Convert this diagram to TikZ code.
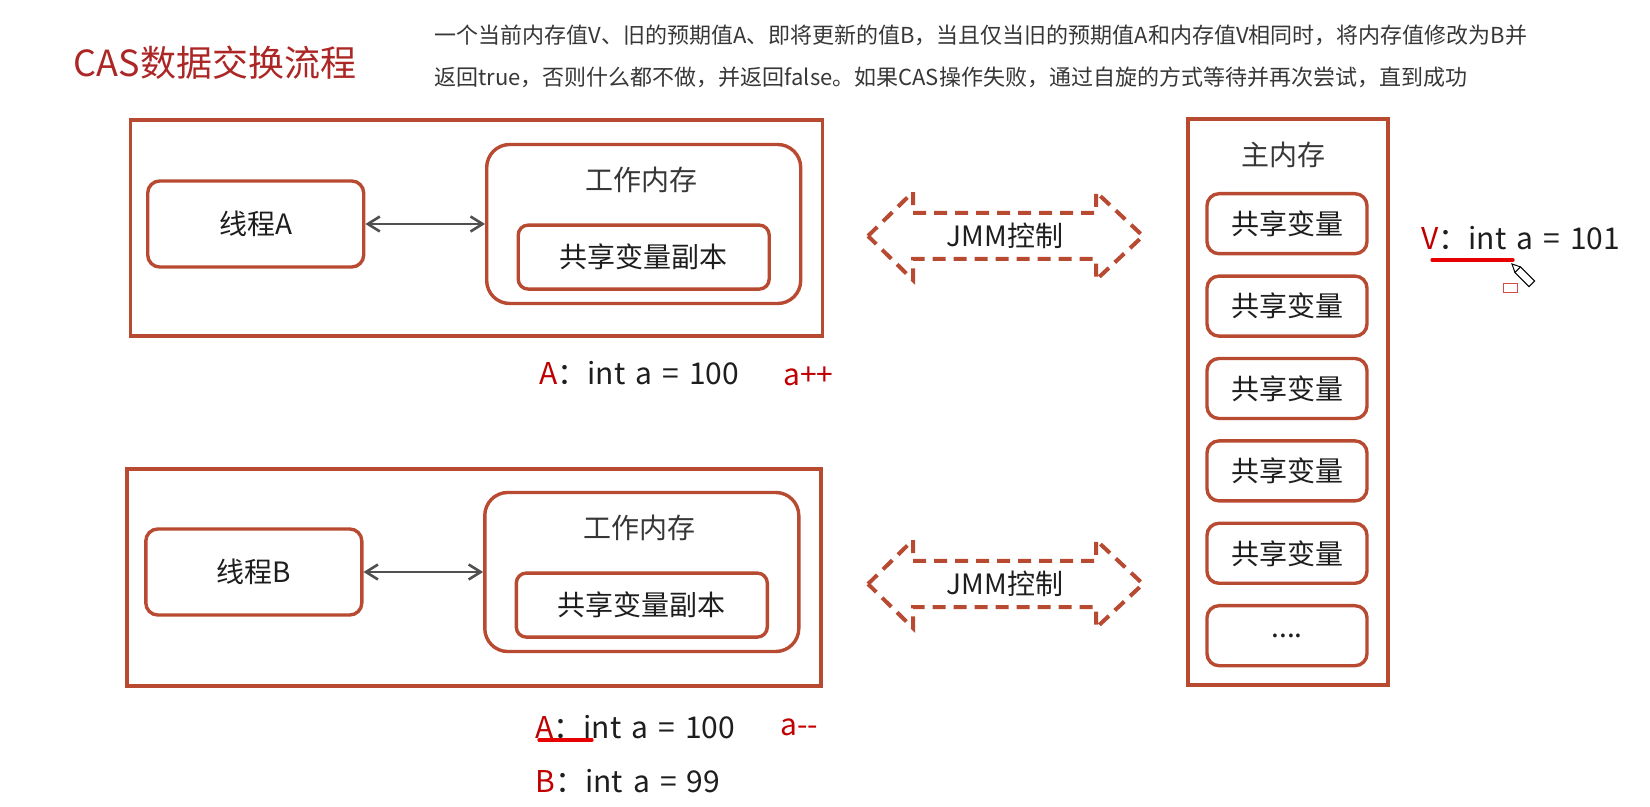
\documentclass[tikz,border=0pt]{standalone}
\usepackage{fontspec}
\setmainfont{Noto Sans CJK SC}[WordSpace=1.5]
\usepackage{tikz}
\usetikzlibrary{arrows.meta, positioning, calc}

\definecolor{lineRust}{RGB}{184,74,50}
\definecolor{lineGray}{RGB}{80,80,80}
\definecolor{textDark}{RGB}{30,30,30}
\definecolor{textGray}{RGB}{55,55,55}
\definecolor{titleRed}{RGB}{172,38,38}
\definecolor{labelRed}{RGB}{192,0,0}
\definecolor{markRed}{RGB}{232,0,0}

\tikzset{
  frameBox/.style={draw=lineRust, line width=1.7pt, inner sep=0pt},
  roundBox/.style={
    frameBox,
    rounded corners=6pt,
    fill=white,
    align=center,
    text=textDark,
    font=\fontsize{14pt}{16pt}\selectfont
  },
  threadNode/.style={roundBox, minimum width=108pt, minimum height=43pt},
  workNode/.style={roundBox, rounded corners=11.5pt, minimum width=157pt, minimum height=79.5pt},
  copyNode/.style={roundBox, rounded corners=5pt, minimum width=125.5pt, minimum height=32pt},
  cellNode/.style={roundBox, minimum width=80pt, minimum height=30pt},
  syncFlow/.style={{Straight Barb[length=6pt,width=7.5pt]}-{Straight Barb[length=6pt,width=7.5pt]}, line width=1.3pt, draw=lineGray},
  jmmFlow/.style={draw=lineRust, line width=2pt, dash pattern=on 6.5pt off 4pt},
  headText/.style={text=textGray, inner sep=0pt, font=\fontsize{14pt}{16pt}\selectfont},
  codeText/.style={anchor=west, inner sep=0pt, text=textDark, font=\fontsize{15pt}{18pt}\selectfont},
  opText/.style={codeText, text=labelRed},
  descText/.style={anchor=west, inner sep=0pt, text=textGray, font=\fontsize{11pt}{13pt}\selectfont},
  markLine/.style={draw=markRed, line width=1.6pt, line cap=round}
}

\begin{document}
\begin{tikzpicture}[x=0.5pt, y=-0.5pt]
  \useasboundingbox (0,0) rectangle (1650,807);

  % title and note
  \node[text=titleRed, inner sep=0pt, font=\fontsize{18pt}{20pt}\selectfont] (title) at (215,63) {CAS数据交换流程};
  \node[descText] (descA) at (434,35) {一个当前内存值V、旧的预期值A、即将更新的值B，当且仅当旧的预期值A和内存值V相同时，将内存值修改为B并};
  \node[descText] (descB) at (434,77) {返回true，否则什么都不做，并返回false。如果CAS操作失败，通过自旋的方式等待并再次尝试，直到成功};

  % thread A
  \node[frameBox, minimum width=346pt, minimum height=108pt] (frameA) at (476.7,228) {};
  \node[threadNode] (threadA) at (255.7,224) {线程A};
  \node[workNode, right=59.8pt of threadA] (workA) {};
  \node[headText] (workLabelA) at ($(workA.north)+(-2,37)$) {工作内存};
  \node[copyNode, above=7.2pt of workA.south] (copyA) {共享变量副本};
  \draw[syncFlow] (threadA) -- (workA);

  \node[codeText] (valA) at (539,373) {\textcolor{labelRed}{A}：int a = 100};
  \node[opText] (opA) at (783,376) {a++};

  % thread B
  \node[frameBox, minimum width=347pt, minimum height=108.5pt] (frameB) at (474,577.6) {};
  \node[threadNode] (threadB) at (253.8,572) {线程B};
  \node[workNode, right=59.8pt of threadB] (workB) {};
  \node[headText] (workLabelB) at ($(workB.north)+(-2,37)$) {工作内存};
  \node[copyNode, above=7.2pt of workB.south] (copyB) {共享变量副本};
  \draw[syncFlow] (threadB) -- (workB);

  \node[codeText] (valB) at (535,727) {\textcolor{labelRed}{A}：int a = 100};
  \node[opText] (opB) at (780,727) {a-{}-};
  \node[codeText] (newB) at (535,781) {\textcolor{labelRed}{B}：int a = 99};
  \draw[markLine] (539,740) -- (592,740);

  % JMM
  \node[headText, text=textDark] (jmmA) at (1005,236) {JMM控制};
  \draw[jmmFlow] ($(jmmA)+(-137,0)$) -- ++(45,-44) -- ++(0,21) -- ++(183,0) -- ++(0,-21)
    -- ++(47,44) -- ++(-47,44) -- ++(0,-21) -- ++(-183,0) -- ++(0,21) -- cycle;
  \node[headText, text=textDark] (jmmB) at (1005,584) {JMM控制};
  \draw[jmmFlow] ($(jmmB)+(-137,0)$) -- ++(45,-44) -- ++(0,21) -- ++(183,0) -- ++(0,-21)
    -- ++(47,44) -- ++(-47,44) -- ++(0,-21) -- ++(-183,0) -- ++(0,21) -- cycle;

  % main memory
  \node[frameBox, minimum width=100pt, minimum height=283pt] (mainMem) at (1288,402) {};
  \node[headText] (mainLabel) at (1283,155) {主内存};
  \node[cellNode] (cell1) at (1287,223.7) {共享变量};
  \node[cellNode, below=9.5pt of cell1] (cell2) {共享变量};
  \node[cellNode, below=9.5pt of cell2] (cell3) {共享变量};
  \node[cellNode, below=9.5pt of cell3] (cell4) {共享变量};
  \node[cellNode, below=9.5pt of cell4] (cell5) {共享变量};
  \node[cellNode, below=9.5pt of cell5] (cell6) {....};

  \node[codeText] (valV) at (1421,238) {\textcolor{labelRed}{V}：int a = 101};
  \draw[markLine] (1432,260) -- (1513,260);

  % cursor
  \draw[draw=labelRed!70, line width=0.5pt, fill=white] (1503,284) rectangle (1517,293);
  \draw[line width=0.5pt, fill=white] (1512,264) -- (1520.5,266.9) -- (1534.6,281) -- (1529,286.6) -- (1514.9,272.5) -- cycle;
  \draw[line width=0.5pt] (1520.5,266.9) -- (1514.9,272.5);
\end{tikzpicture}
\end{document}
